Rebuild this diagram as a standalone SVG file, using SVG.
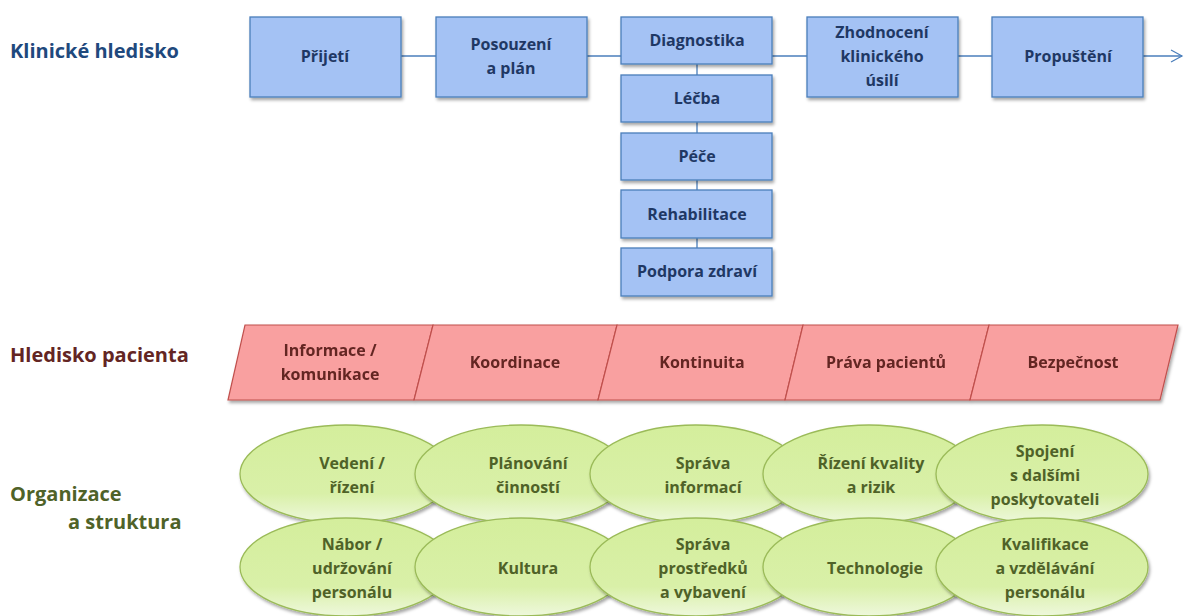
<svg xmlns="http://www.w3.org/2000/svg" width="1185" height="616" viewBox="0 0 1185 616">
<defs>
<filter id="sh" x="-10%" y="-10%" width="125%" height="130%">
<feDropShadow dx="1.5" dy="2.5" stdDeviation="1.5" flood-color="#000" flood-opacity="0.35"/>
</filter>
<linearGradient id="gg" x1="0" y1="0" x2="0" y2="1">
<stop offset="0" stop-color="#d4ee9c"/>
<stop offset="0.7" stop-color="#d9f0a8"/>
<stop offset="1" stop-color="#eef8dc"/>
</linearGradient>
<marker id="arr" markerWidth="14" markerHeight="14" refX="12" refY="7" orient="auto" markerUnits="userSpaceOnUse">
<path d="M1,1 L12,7 L1,13" fill="none" stroke="#4a7ebb" stroke-width="1.2"/>
</marker>
</defs>
<style>
.lbl{font-family:"Open Sans","Liberation Sans",sans-serif;font-weight:bold;}
.b rect{fill:#a4c2f4;stroke:#4a7ebb;stroke-width:1.3;filter:url(#sh);}
.b text{fill:#1f3864;font-size:16px;text-anchor:middle;}
.p polygon{fill:#f9a0a0;stroke:#c0504d;stroke-width:1.2;}
.p text{fill:#632523;font-size:16px;text-anchor:middle;}
.g ellipse{fill:url(#gg);stroke:#9bbb59;stroke-width:1.3;filter:url(#sh);}
.g text{fill:#4f6228;font-size:16px;text-anchor:middle;}
.c{stroke:#4a7ebb;stroke-width:1.3;fill:none;}
.t{font-size:20px;}
</style>
<rect width="1185" height="616" fill="#fff"/>

<text class="lbl t" x="10" y="58" fill="#1f497d">Klinické hledisko</text>
<text class="lbl t" x="10" y="362" fill="#632523">Hledisko pacienta</text>
<text class="lbl t" x="10" y="501" fill="#4f6228">Organizace</text>
<text class="lbl t" x="68" y="529" fill="#4f6228">a struktura</text>

<g id="connectors">
<line class="c" x1="401" y1="56" x2="436" y2="56"/>
<line class="c" x1="587" y1="56" x2="621" y2="56"/>
<line class="c" x1="772" y1="56" x2="807" y2="56"/>
<line class="c" x1="958" y1="56" x2="992" y2="56"/>
<line class="c" x1="1143" y1="56" x2="1182" y2="56" marker-end="url(#arr)"/>
<line class="c" x1="697" y1="64" x2="697" y2="75"/>
<line class="c" x1="697" y1="122" x2="697" y2="133"/>
<line class="c" x1="697" y1="180" x2="697" y2="190"/>
<line class="c" x1="697" y1="238" x2="697" y2="248"/>
</g>

<g id="prijeti" class="b lbl"><rect x="250" y="17" width="151" height="80"/><text x="325" y="62">Přijetí</text></g>
<g id="posouzeni" class="b lbl"><rect x="436" y="17" width="151" height="80"/><text x="511" y="50">Posouzení</text><text x="511" y="74">a plán</text></g>
<g id="diagnostika" class="b lbl"><rect x="621" y="17" width="151" height="47"/><text x="697" y="46">Diagnostika</text></g>
<g id="lecba" class="b lbl"><rect x="621" y="75" width="151" height="47"/><text x="697" y="104">Léčba</text></g>
<g id="pece" class="b lbl"><rect x="621" y="133" width="151" height="47"/><text x="697" y="162">Péče</text></g>
<g id="rehabilitace" class="b lbl"><rect x="621" y="190" width="151" height="48"/><text x="697" y="220">Rehabilitace</text></g>
<g id="podpora" class="b lbl"><rect x="621" y="248" width="151" height="48"/><text x="697" y="277">Podpora zdraví</text></g>
<g id="zhodnoceni" class="b lbl"><rect x="807" y="17" width="151" height="80"/><text x="882" y="38">Zhodnocení</text><text x="882" y="62">klinického</text><text x="882" y="86">úsilí</text></g>
<g id="propusteni" class="b lbl"><rect x="992" y="17" width="151" height="80"/><text x="1068" y="62">Propuštění</text></g>

<g filter="url(#sh)">
<g id="informace" class="p lbl"><polygon points="245,325 433,325 414,400 228,400"/><text x="330" y="356">Informace /</text><text x="330" y="380">komunikace</text></g>
<g id="koordinace" class="p lbl"><polygon points="433,325 617,325 598,400 414,400"/><text x="515" y="368">Koordinace</text></g>
<g id="kontinuita" class="p lbl"><polygon points="617,325 803,325 785,400 598,400"/><text x="702" y="368">Kontinuita</text></g>
<g id="prava" class="p lbl"><polygon points="803,325 989,325 970,400 785,400"/><text x="886" y="368">Práva pacientů</text></g>
<g id="bezpecnost" class="p lbl"><polygon points="989,325 1178,325 1160,400 970,400"/><text x="1073" y="368">Bezpečnost</text></g>
</g>

<g id="vedeni" class="g lbl"><ellipse cx="346" cy="474" rx="106" ry="49"/><text x="352" y="469">Vedení /</text><text x="352" y="493">řízení</text></g>
<g id="planovani" class="g lbl"><ellipse cx="521" cy="474" rx="106" ry="49"/><text x="528" y="469">Plánování</text><text x="528" y="493">činností</text></g>
<g id="sprava-inf" class="g lbl"><ellipse cx="696" cy="474" rx="106" ry="49"/><text x="703" y="469">Správa</text><text x="703" y="493">informací</text></g>
<g id="rizeni" class="g lbl"><ellipse cx="869" cy="474" rx="106" ry="49"/><text x="871" y="469">Řízení kvality</text><text x="871" y="493">a rizik</text></g>
<g id="spojeni" class="g lbl"><ellipse cx="1042" cy="474" rx="106" ry="49"/><text x="1045" y="457">Spojení</text><text x="1045" y="481">s dalšími</text><text x="1045" y="505">poskytovateli</text></g>

<g id="nabor" class="g lbl"><ellipse cx="346" cy="567" rx="106" ry="49"/><text x="352" y="550">Nábor /</text><text x="352" y="574">udržování</text><text x="352" y="598">personálu</text></g>
<g id="kultura" class="g lbl"><ellipse cx="521" cy="567" rx="106" ry="49"/><text x="528" y="574">Kultura</text></g>
<g id="sprava-pro" class="g lbl"><ellipse cx="696" cy="567" rx="106" ry="49"/><text x="703" y="550">Správa</text><text x="703" y="574">prostředků</text><text x="703" y="598">a vybavení</text></g>
<g id="technologie" class="g lbl"><ellipse cx="869" cy="567" rx="106" ry="49"/><text x="875" y="574">Technologie</text></g>
<g id="kvalifikace" class="g lbl"><ellipse cx="1042" cy="567" rx="106" ry="49"/><text x="1045" y="550">Kvalifikace</text><text x="1045" y="574">a  vzdělávání</text><text x="1045" y="598">personálu</text></g>
</svg>
